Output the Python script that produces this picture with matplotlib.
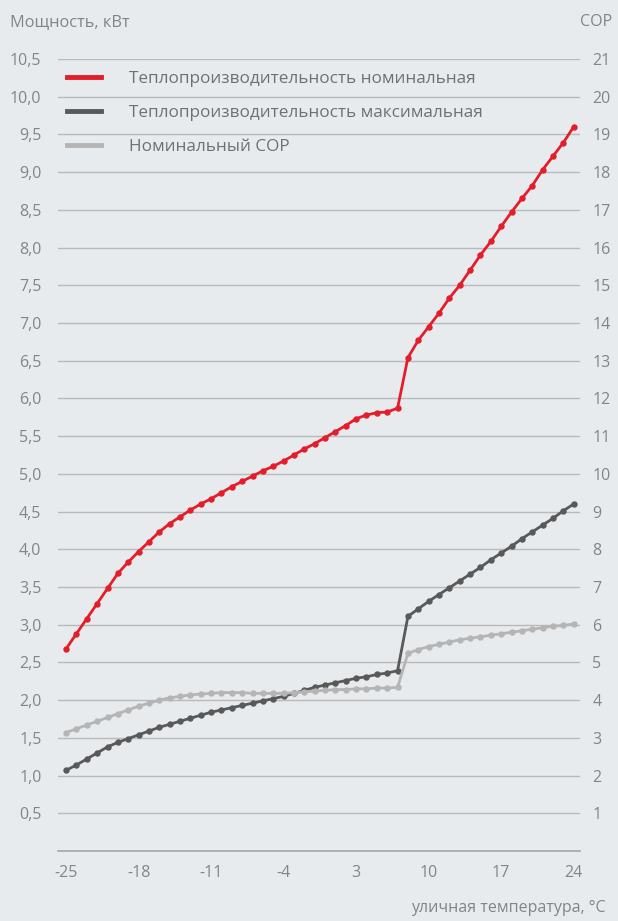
import matplotlib
matplotlib.use("Agg")
import matplotlib.pyplot as plt
from matplotlib.lines import Line2D
import numpy as np

# outdoor temperature, one point per degree
temps = list(range(-25, 25))

# nominal heating capacity, kW
nominal_kw = [2.68, 2.88, 3.08, 3.28, 3.48, 3.68, 3.83, 3.97, 4.10, 4.23,
              4.34, 4.43, 4.52, 4.60, 4.67, 4.75, 4.83, 4.90, 4.97, 5.04,
              5.10, 5.17, 5.25, 5.33, 5.40, 5.48, 5.56, 5.64, 5.73, 5.78,
              5.81, 5.82, 5.87, 6.54, 6.77, 6.95, 7.13, 7.33, 7.50, 7.70,
              7.90, 8.08, 8.28, 8.47, 8.65, 8.82, 9.03, 9.21, 9.39, 9.60]

# maximum heating capacity, kW
max_kw = [1.07, 1.14, 1.22, 1.30, 1.38, 1.44, 1.49, 1.54, 1.59, 1.64,
          1.68, 1.72, 1.76, 1.80, 1.84, 1.87, 1.90, 1.93, 1.96, 1.99,
          2.02, 2.05, 2.09, 2.13, 2.17, 2.20, 2.23, 2.26, 2.29, 2.31,
          2.34, 2.36, 2.39, 3.11, 3.21, 3.31, 3.40, 3.49, 3.58, 3.67,
          3.76, 3.86, 3.95, 4.04, 4.14, 4.23, 4.32, 4.41, 4.51, 4.60]

# nominal COP (right axis)
nominal_cop = [3.14, 3.24, 3.34, 3.44, 3.54, 3.64, 3.74, 3.84, 3.92, 4.00,
               4.06, 4.10, 4.14, 4.16, 4.18, 4.20, 4.20, 4.20, 4.18, 4.18,
               4.18, 4.18, 4.20, 4.22, 4.24, 4.26, 4.28, 4.28, 4.30, 4.30,
               4.32, 4.32, 4.34, 5.24, 5.34, 5.42, 5.48, 5.54, 5.60, 5.64,
               5.68, 5.72, 5.76, 5.80, 5.84, 5.88, 5.92, 5.96, 5.98, 6.02]

xticks = [-25, -18, -11, -4, 3, 10, 17, 24]
left_ticks = np.arange(0.5, 10.51, 0.5)
right_ticks = list(range(1, 22))

labels = ["Теплопроизводительность номинальная",
          "Теплопроизводительность максимальная",
          "Номинальный COP"]

BG = "#e8ebee"
TXT = "#848484"
RED = "#e31e2a"
DARK = "#595959"
LIGHT = "#b5b5b5"

plt.rcParams["font.family"] = ["Open Sans", "DejaVu Sans"]

fig = plt.figure(figsize=(6.18, 9.21), dpi=100, facecolor=BG)
ax = fig.add_axes([0.094, 0.076, 0.844, 0.86])
ax.set_facecolor(BG)
ax2 = ax.twinx()

ax.plot(temps, max_kw, color=DARK, lw=2.0, marker="o", ms=3.6, zorder=3)
ax.plot(temps, nominal_kw, color=RED, lw=2.0, marker="o", ms=3.6, zorder=4)
ax2.plot(temps, nominal_cop, color=LIGHT, lw=2.0, marker="o", ms=3.6)

ax.set_xlim(-25.77, 24.58)
ax.set_ylim(0, 10.5)
ax2.set_ylim(0, 21)

ax.set_yticks(left_ticks)
ax.set_yticklabels([f"{v:.1f}".replace(".", ",") for v in left_ticks])
ax2.set_yticks(right_ticks)
ax2.set_yticklabels([str(v) for v in right_ticks])
ax.set_xticks(xticks)
ax.set_xticklabels([str(v) for v in xticks])

ax.grid(axis="y", color="#b9b9b9", lw=1.0)
ax.set_axisbelow(True)
for a in (ax, ax2):
    for s in a.spines.values():
        s.set_visible(False)
ax.spines["bottom"].set_visible(True)
ax.spines["bottom"].set_color("#a5a5a5")
ax.spines["bottom"].set_linewidth(1.2)

ax.tick_params(axis="y", length=0, pad=12, labelsize=11.5, labelcolor=TXT)
ax2.tick_params(axis="y", length=0, pad=9, labelsize=11.5, labelcolor=TXT)
ax.tick_params(axis="x", length=0, pad=10, labelsize=11.5, labelcolor=TXT)

fig.text(0.016, 0.976, "Мощность, кВт", fontsize=11.8, color=TXT, va="center", ha="left")
fig.text(0.99, 0.976, "COP", fontsize=11.5, color=TXT, va="center", ha="right")
fig.text(0.98, 0.014, "уличная температура, °C", fontsize=11.5, color=TXT,
         va="center", ha="right")

handles = [Line2D([], [], color=RED, lw=3.5),
           Line2D([], [], color=DARK, lw=3.5),
           Line2D([], [], color=LIGHT, lw=3.5)]
fig.legend(handles, labels, loc="upper left", bbox_to_anchor=(0.084, 0.94),
           frameon=False, fontsize=12.3, labelcolor="#707070",
           handlelength=2.0, handletextpad=1.6, labelspacing=1.05)

fig.savefig("out.png", dpi=100, facecolor=BG)
